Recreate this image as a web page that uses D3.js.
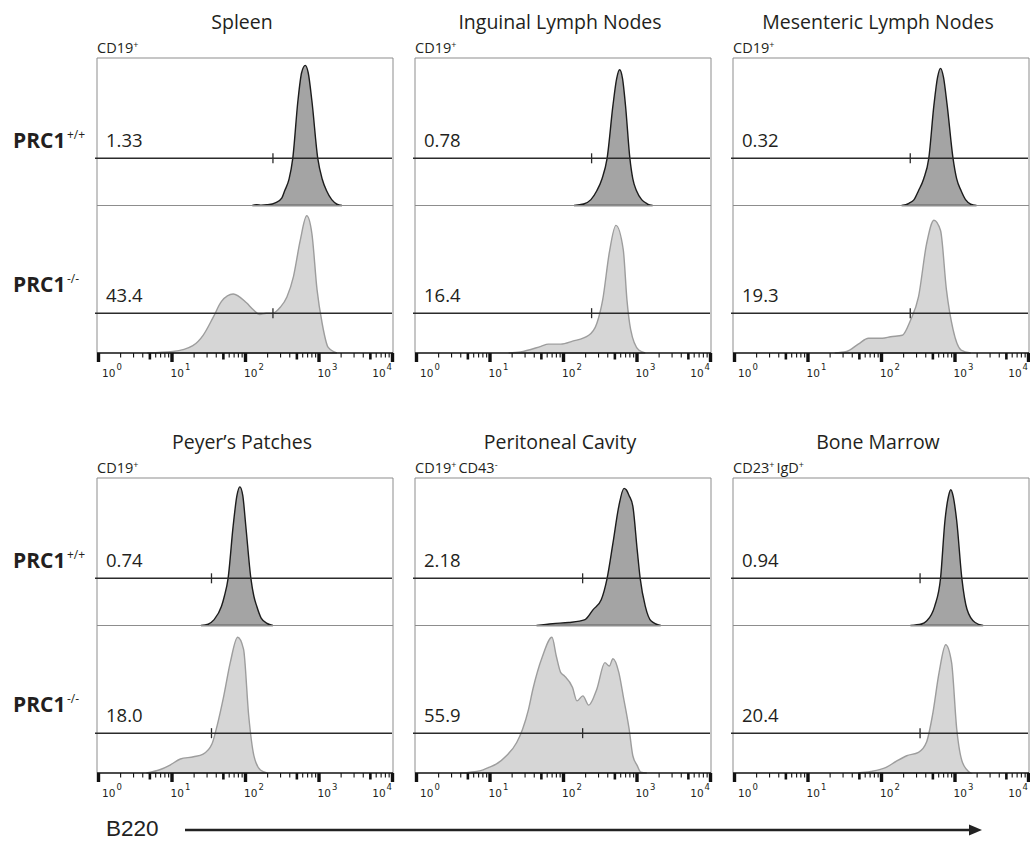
<!DOCTYPE html>
<html><head><meta charset="utf-8">
<script src="https://cdn.jsdelivr.net/npm/d3@7"></script>
<style>body{margin:0;background:#fff} svg{display:block}</style>
</head><body>
<svg id="c" width="1030" height="841"></svg>
<script>
// ---------------- DATA ----------------
const tissues = ["Spleen", "Inguinal Lymph Nodes", "Mesenteric Lymph Nodes",
                 "Peyer\u2019s Patches", "Peritoneal Cavity", "Bone Marrow"];
const populations = [
  [["CD19", "+"]], [["CD19", "+"]], [["CD19", "+"]],
  [["CD19", "+"]], [["CD19", "+"], ["CD43", "-"]], [["CD23", "+"], ["IgD", "+"]]
];
const genotypes = [["PRC1", "+/+"], ["PRC1", "-/-"]];
const wtPercent = ["1.33", "0.78", "0.32", "0.74", "2.18", "0.94"];
const koPercent = ["43.4", "16.4", "19.3", "18.0", "55.9", "20.4"];
const gateB220 = [240, 245, 250, 35, 185, 340];
const gateHeightWT = 32, gateHeightKO = 27;   // % of plot height where the gate bar sits
const decades = [1, 10, 100, 1000, 10000];
const axisTitle = "B220";

// histograms: [log10(B220), % of max plot height]
const spleenWT = [[2.1,0],[2.16,0.6],[2.22,0.2],[2.3,0.5],[2.42,2],[2.5,5],[2.54,10],[2.6,18],[2.65,32],[2.72,71],[2.77,90],[2.82,95],[2.86,90],[2.91,71],[2.99,32],[3.05,18],[3.11,10],[3.18,4],[3.25,1],[3.32,0]];
const inguinalWT = [[2.15,0],[2.28,1],[2.38,4],[2.46,10],[2.53,18],[2.6,32],[2.68,68],[2.73,86],[2.77,92],[2.81,86],[2.85,68],[2.91,32],[2.95,18],[3.0,10],[3.07,4],[3.15,1],[3.22,0]];
const mesentericWT = [[2.28,0],[2.38,1.5],[2.45,4],[2.51,10],[2.58,18],[2.65,32],[2.72,68],[2.77,87],[2.81,93],[2.85,87],[2.9,68],[2.98,32],[3.03,18],[3.09,10],[3.15,4],[3.22,1],[3.3,0]];
const peyersWT = [[1.4,0],[1.5,1],[1.58,4],[1.68,13],[1.72,20],[1.77,32],[1.84,68],[1.89,88],[1.93,94],[1.97,88],[2.01,68],[2.08,32],[2.12,20],[2.16,13],[2.22,5],[2.3,1.5],[2.38,0]];
const peritonealWT = [[1.64,0],[1.86,1.3],[2.08,2],[2.3,4],[2.41,10.8],[2.52,17.5],[2.6,32],[2.68,56],[2.76,81],[2.83,93],[2.86,92],[2.9,88],[2.95,81],[3.01,51],[3.05,32],[3.12,13],[3.2,3],[3.33,0]];
const boneMarrowWT = [[2.4,0],[2.55,1],[2.62,3],[2.73,13],[2.81,32],[2.87,71],[2.92,88],[2.95,92],[2.98,88],[3.03,71],[3.1,32],[3.17,11],[3.28,2],[3.39,0]];

const spleenKO = [[0.67,0],[1.02,1],[1.29,5],[1.43,12],[1.57,24.5],[1.68,35],[1.84,40],[2.02,34],[2.11,29.5],[2.2,26],[2.29,27],[2.38,27],[2.48,31],[2.57,38],[2.66,52],[2.75,76],[2.84,93],[2.91,81],[2.98,43],[3.05,20],[3.13,4],[3.25,0]];
const inguinalKO = [[1.26,0],[1.42,0.7],[1.7,4.5],[1.8,6],[1.97,6],[2.13,8],[2.35,12],[2.46,20],[2.54,36],[2.63,68],[2.72,86.5],[2.82,70],[2.87,36],[2.92,16],[3.03,2],[3.12,0]];
const mesentericKO = [[1.37,0],[1.53,1],[1.69,6],[1.83,10],[2.02,10],[2.13,11],[2.29,12],[2.4,22],[2.51,38],[2.62,74],[2.72,90],[2.81,83],[2.89,43],[2.98,16],[3.09,2],[3.22,0]];
const peyersKO = [[0.66,0],[0.84,2.2],[0.98,5.4],[1.12,9.5],[1.3,11],[1.43,12.8],[1.55,19.6],[1.62,32],[1.71,52],[1.8,75],[1.9,92],[1.98,84],[2.05,39],[2.12,12],[2.21,2],[2.3,0]];
const peritonealKO = [[0.6,0],[0.88,1.6],[0.99,3.8],[1.09,6],[1.23,11.7],[1.37,20.7],[1.45,29.7],[1.53,43],[1.59,56.8],[1.72,79],[1.85,92],[1.91,79],[1.97,68],[2.02,65.8],[2.13,57.9],[2.19,48.9],[2.27,52.3],[2.35,46],[2.46,56.8],[2.57,74.8],[2.63,72.5],[2.68,77.5],[2.76,68],[2.82,52],[2.9,29.7],[2.95,11.7],[3.01,5],[3.06,0.5],[3.14,0]];
const boneMarrowKO = [[1.69,0],[1.86,1],[2.07,3.8],[2.21,8],[2.35,11.7],[2.51,14],[2.62,21],[2.7,39],[2.79,68],[2.88,87],[2.96,75],[3.03,30],[3.11,7],[3.22,0]];

const wtHist = [spleenWT, inguinalWT, mesentericWT, peyersWT, peritonealWT, boneMarrowWT];
const koHist = [spleenKO, inguinalKO, mesentericKO, peyersKO, peritonealKO, boneMarrowKO];

// ---------------- LAYOUT ----------------
const svg = d3.select("#c");
const FONT = "'Open Sans', 'Noto Sans', sans-serif";
const INK = "#231f20";
const panelW = 296, subH = 147.5;
const colX = [97, 415, 733];
const rowY = [58, 478];

const allTicks = [];
for (let d = 0; d < 4; d++) for (let m = 1; m <= 9; m++) allTicks.push(m * Math.pow(10, d));
allTicks.push(10000);

tissues.forEach((name, i) => {
  const col = i % 3, row = Math.floor(i / 3);
  const x0 = colX[col], y0 = rowY[row];
  const g = svg.append("g");
  const x = d3.scaleLog().domain([decades[0], decades[decades.length - 1]]).range([x0 + 1, x0 + panelW - 1]);
  const yW = d3.scaleLinear().domain([0, 100]).range([y0 + subH, y0]);
  const yK = d3.scaleLinear().domain([0, 100]).range([y0 + 2 * subH, y0 + subH]);

  // title
  g.append("text").attr("x", x0 + panelW / 2 - 3).attr("y", y0 - 29)
    .attr("text-anchor", "middle").attr("font-family", FONT).attr("font-size", 19.5)
    .attr("fill", INK).text(name);

  // population label
  const pt = g.append("text").attr("x", x0).attr("y", y0 - 5)
    .attr("font-family", FONT).attr("font-size", 14.5).attr("fill", INK);
  populations[i].forEach(([base, sup], k) => {
    pt.append("tspan").attr("dy", k === 0 ? 0 : 5).attr("dx", k === 0 ? 0 : 2).text(base);
    pt.append("tspan").attr("dy", -5).attr("font-size", 9).text(sup);
  });

  // histograms
  const areaW = d3.area().curve(d3.curveMonotoneX)
    .x(d => x(Math.pow(10, d[0]))).y0(yW(0)).y1(d => yW(d[1]));
  const areaK = d3.area().curve(d3.curveMonotoneX)
    .x(d => x(Math.pow(10, d[0]))).y0(yK(0)).y1(d => yK(d[1]));
  g.append("path").datum(wtHist[i]).attr("d", areaW)
    .attr("fill", "#a4a4a4").attr("stroke", "#1c1c1c").attr("stroke-width", 1.4);
  g.append("path").datum(koHist[i]).attr("d", areaK)
    .attr("fill", "#d6d6d6").attr("stroke", "#9d9d9d").attr("stroke-width", 1.4);

  // frame
  const frame = "#8d8d8d";
  g.append("line").attr("x1", x0).attr("x2", x0 + panelW).attr("y1", y0).attr("y2", y0).attr("stroke", frame);
  g.append("line").attr("x1", x0).attr("x2", x0 + panelW).attr("y1", y0 + subH).attr("y2", y0 + subH).attr("stroke", frame);
  g.append("line").attr("x1", x0).attr("x2", x0).attr("y1", y0).attr("y2", y0 + 2 * subH).attr("stroke", frame);
  g.append("line").attr("x1", x0 + panelW).attr("x2", x0 + panelW).attr("y1", y0).attr("y2", y0 + 2 * subH).attr("stroke", frame);

  // gates
  [[yW, gateHeightWT, wtPercent[i]], [yK, gateHeightKO, koPercent[i]]].forEach(([ys, h, pct]) => {
    const gy = ys(h);
    g.append("line").attr("x1", x0 - 2).attr("x2", x0 + panelW - 1).attr("y1", gy).attr("y2", gy)
      .attr("stroke", "#2b2b2b").attr("stroke-width", 1.5);
    g.append("line").attr("x1", x(gateB220[i])).attr("x2", x(gateB220[i])).attr("y1", gy - 5).attr("y2", gy + 5)
      .attr("stroke", "#2b2b2b").attr("stroke-width", 1.3);
    g.append("text").attr("x", x0 + 9).attr("y", gy - 11).attr("font-family", FONT)
      .attr("font-size", 18.5).attr("fill", INK).text(pct);
  });

  // axis
  const axisY = y0 + 2 * subH;
  const ax = g.append("g").attr("transform", `translate(0,${axisY})`)
    .call(d3.axisBottom(x).tickValues(allTicks).tickSize(5).tickFormat(""));
  ax.select(".domain").attr("stroke", "#111").attr("stroke-width", 1.6).attr("d", `M${x0},0H${x0 + panelW}`);
  ax.selectAll(".tick line").each(function(v) {
    const m = Math.round(v / Math.pow(10, Math.floor(Math.log10(v) + 1e-9)));
    const sel = d3.select(this).attr("stroke", "#111");
    if (m === 1) sel.attr("y2", 9).attr("stroke-width", 3.4);
    else if (m === 5) sel.attr("y2", 6.5).attr("stroke-width", 2.6);
    else sel.attr("y2", 4.5).attr("stroke-width", 1.1);
  });
  decades.forEach((v, k) => {
    const last = k === decades.length - 1;
    const t = g.append("text").attr("x", x(v) + (k === 0 ? 4 : (last ? 0 : -1)))
      .attr("y", axisY + 24).attr("text-anchor", last ? "end" : "start")
      .attr("font-family", "'DejaVu Sans', sans-serif").attr("font-size", 10.5).attr("fill", INK);
    t.append("tspan").text("10");
    t.append("tspan").attr("dy", -7).attr("dx", 1).attr("font-size", 8.5).text(String(Math.round(Math.log10(v))));
  });
});

// genotype row labels
rowY.forEach(y0 => {
  [[y0 + 89.5, genotypes[0]], [y0 + 234, genotypes[1]]].forEach(([y, [base, sup]]) => {
    const t = svg.append("text").attr("x", 13).attr("y", y).attr("font-family", FONT).attr("fill", INK);
    t.append("tspan").attr("font-size", 21).attr("font-weight", 700).text(base);
    t.append("tspan").attr("font-size", 12).attr("dy", -9).attr("dx", 1.5).text(sup);
  });
});

// x-axis title with arrow
svg.append("text").attr("x", 106).attr("y", 836).attr("font-family", "'Liberation Sans', Arial, sans-serif")
  .attr("font-size", 22.5).attr("fill", "#222").text(axisTitle);
svg.append("line").attr("x1", 185).attr("x2", 972).attr("y1", 830).attr("y2", 830)
  .attr("stroke", "#222").attr("stroke-width", 2.4);
svg.append("path").attr("d", "M969,824.5L982,830L969,835.5Z").attr("fill", "#222");
</script>
</body></html>
